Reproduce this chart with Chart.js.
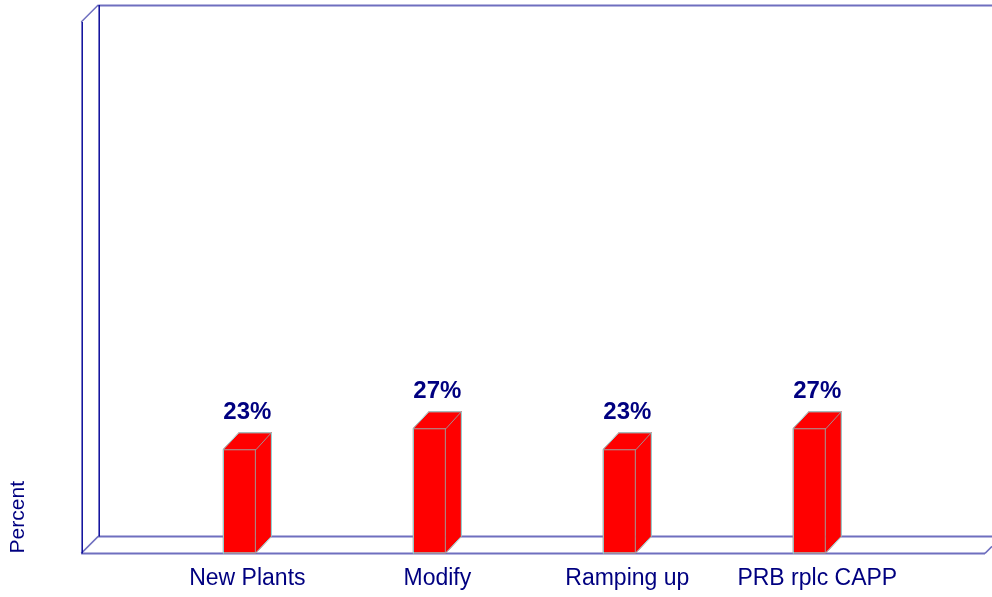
<!DOCTYPE html>
<html>
<head>
<meta charset="utf-8">
<script src="https://cdn.jsdelivr.net/npm/chart.js@4"></script>
<style>
  html, body { margin: 0; padding: 0; background: #fff; }
  #wrap { width: 992px; height: 597px; }
</style>
</head>
<body>
<div id="wrap"><canvas id="barChart"></canvas></div>
<script>
// data
const categories = ['New Plants', 'Modify', 'Ramping up', 'PRB rplc CAPP'];
const percents = [22.8, 27.4, 22.8, 27.4];

const navy = '#000080';
const DX = 16, DY = 17; // depth of the 3d bars

// frame: back wall + left wall + floor
const frame3d = {
    id: 'frame3d',
    beforeDatasetsDraw(chart) {
        const {ctx, chartArea: a, width} = chart;
        const d = 17;
        ctx.save();
        ctx.lineWidth = 2;
        ctx.strokeStyle = '#6f6fbf';
        ctx.beginPath();
        // top edge of back wall
        ctx.moveTo(a.left + d, a.top - d + 0.5); ctx.lineTo(width, a.top - d + 0.5);
        // floor back + front
        ctx.moveTo(a.left + d, a.bottom - d); ctx.lineTo(width, a.bottom - d);
        ctx.moveTo(a.left, a.bottom); ctx.lineTo(a.right, a.bottom);
        ctx.stroke();
        ctx.lineWidth = 1.5;
        ctx.beginPath();
        ctx.moveTo(a.left, a.top); ctx.lineTo(a.left + d, a.top - d);
        ctx.moveTo(a.left, a.bottom); ctx.lineTo(a.left + d, a.bottom - d);
        ctx.moveTo(a.right, a.bottom); ctx.lineTo(a.right + 7, a.bottom - 7);
        ctx.stroke();
        // left edges, crisp 1px
        ctx.lineWidth = 1.5;
        ctx.strokeStyle = '#0a0a9a';
        ctx.beginPath();
        ctx.moveTo(a.left + 1, a.top); ctx.lineTo(a.left + 1, a.bottom);
        ctx.moveTo(a.left + d + 1, a.top - d); ctx.lineTo(a.left + d + 1, a.bottom - d);
        ctx.stroke();
        ctx.restore();
    }
};

// top/side faces and value labels
const bars3d = {
    id: 'bars3d',
    afterDatasetsDraw(chart) {
        const {ctx} = chart;
        const meta = chart.getDatasetMeta(0);
        ctx.save();
        meta.data.forEach((bar, i) => {
            const l = bar.x - bar.width / 2, r = bar.x + bar.width / 2;
            const t = bar.y, b = bar.base;
            ctx.fillStyle = '#ff0000';
            ctx.beginPath();
            ctx.moveTo(l, t); ctx.lineTo(l + DX, t - DY); ctx.lineTo(r + DX, t - DY);
            ctx.lineTo(r + DX, b - DY); ctx.lineTo(r, b); ctx.lineTo(r, t);
            ctx.closePath();
            ctx.fill();
            ctx.fillRect(l, t, r - l, b - t);
            // outline
            ctx.lineWidth = 1;
            ctx.strokeStyle = '#80f0f0';
            ctx.beginPath();
            ctx.moveTo(l + 0.5, b); ctx.lineTo(l + 0.5, t); ctx.lineTo(l + DX, t - DY + 0.5);
            ctx.lineTo(r + DX - 0.5, t - DY + 0.5); ctx.lineTo(r + DX - 0.5, b - DY);
            ctx.lineTo(r, b - 0.5); ctx.lineTo(l, b - 0.5);
            ctx.stroke();
            // inner edges
            ctx.strokeStyle = '#a09090';
            ctx.beginPath();
            ctx.moveTo(l + 1, t + 0.5); ctx.lineTo(r, t + 0.5);
            ctx.lineTo(r + DX - 1, t - DY + 1);
            ctx.moveTo(r - 0.5, t); ctx.lineTo(r - 0.5, b - 1);
            ctx.stroke();
            // label
            ctx.fillStyle = navy;
            ctx.font = 'bold 24px "Liberation Sans", Arial, sans-serif';
            ctx.textAlign = 'center';
            ctx.textBaseline = 'alphabetic';
            ctx.fillText(Math.round(percents[i]) + '%', bar.x + DX / 2, t - DY - 13);
        });
        ctx.restore();
    }
};

const dataBars = {
    datasets: [{
        label: 'Percent',
        data: percents.map((v, i) => ({x: i, y: v})),
        backgroundColor: 'rgba(0,0,0,0)',
        borderWidth: 0,
        barThickness: 33
    }]
};

const configBars = {
    type: 'bar',
    data: dataBars,
    options: {
        responsive: true,
        maintainAspectRatio: false,
        animation: false,
        layout: {padding: {top: 22, right: 7, bottom: -6, left: 0}},
        plugins: {legend: {display: false}, tooltip: {enabled: false}},
        scales: {
            x: {
                type: 'linear',
                offset: false,
                min: -0.8326,
                max: 3.925,
                grid: {display: false, drawTicks: false, offset: false},
                border: {display: false},
                afterBuildTicks: axis => {
                    axis.ticks = categories.map((c, i) => ({value: i}));
                },
                ticks: {
                    padding: 11,
                    labelOffset: 8,
                    autoSkip: false,
                    maxRotation: 0,
                    color: navy,
                    font: {family: '"Liberation Sans", Arial, sans-serif', size: 23},
                    callback: v => categories[v]
                }
            },
            y: {
                min: 0,
                max: 116.4,
                grid: {display: false, drawTicks: false},
                border: {display: false},
                ticks: {display: false},
                title: {
                    display: true,
                    text: 'Percent',
                    align: 'start',
                    color: navy,
                    font: {family: '"Liberation Sans", Arial, sans-serif', size: 21},
                    padding: {top: 6, bottom: 50}
                }
            }
        }
    },
    plugins: [frame3d, bars3d]
};

const barChart = new Chart(document.getElementById('barChart'), configBars);
</script>
</body>
</html>
